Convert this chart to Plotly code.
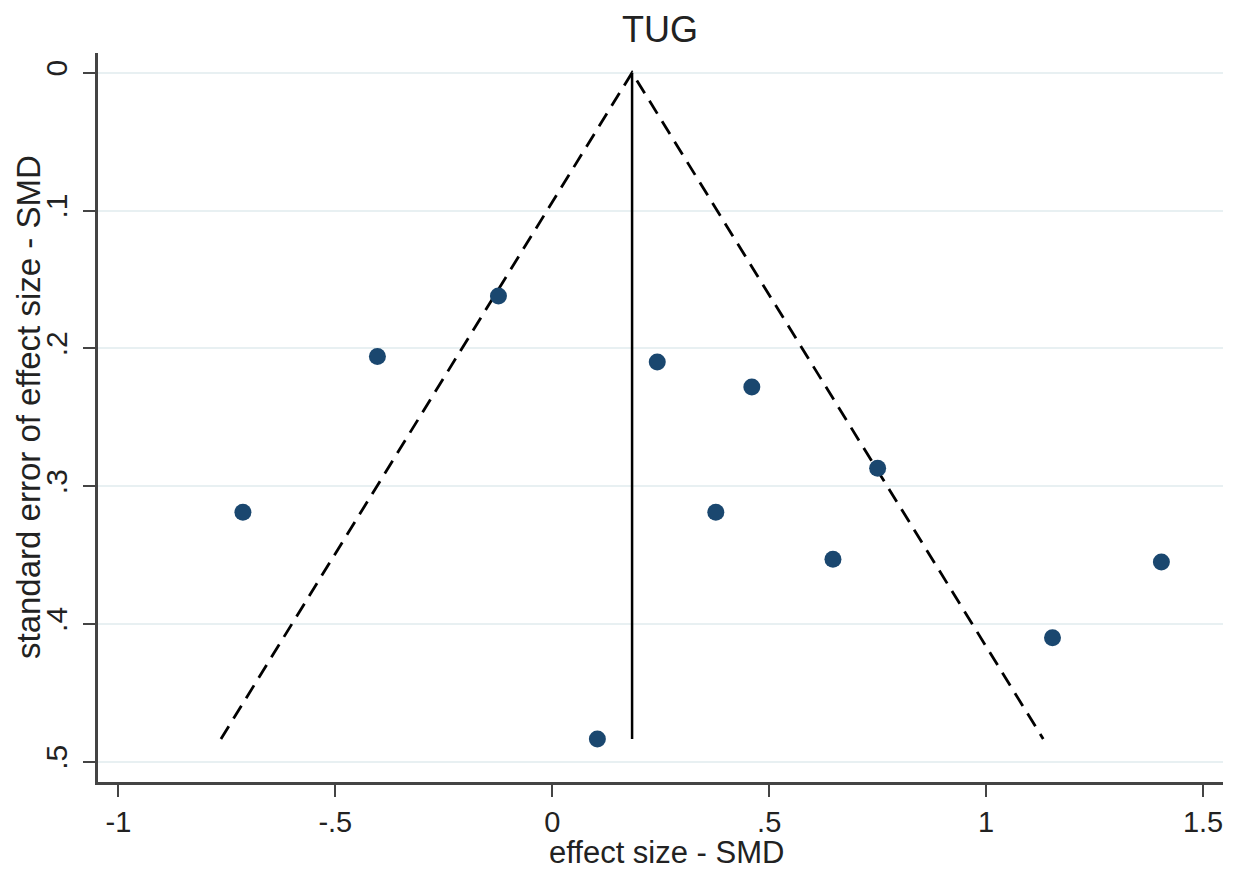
import plotly.graph_objects as go

# Study effect sizes (SMD) and their standard errors
smd = [-0.713, -0.403, -0.124, 0.242, 0.460, 0.750, 0.377, 0.647, 1.404, 1.153, 0.104]
se = [0.319, 0.206, 0.162, 0.210, 0.228, 0.287, 0.319, 0.353, 0.355, 0.410, 0.4835]

pooled = 0.184
se_max = 0.4835
z = 1.96

x_ticks = [-1, -0.5, 0, 0.5, 1, 1.5]
x_ticktext = ["-1", "-.5", "0", ".5", "1", "1.5"]
y_ticks = [0, 0.1, 0.2, 0.3, 0.4, 0.5]
y_ticktext = ["0", ".1", ".2", ".3", ".4", ".5"]

FONT = "Liberation Sans, Arial, sans-serif"
AXIS_COL = "#444444"
TXT = "#222222"

# page body has an 8px margin: shift everything accordingly
OFF = 8
W, H = 1236 - OFF, 870 - OFF

fig = go.Figure()

# pseudo 95% confidence limits
fig.add_trace(go.Scatter(
    x=[pooled - z * se_max, pooled, pooled + z * se_max],
    y=[se_max, 0, se_max],
    mode="lines",
    line=dict(color="black", width=2.8, dash="15px,9px"),
    hoverinfo="skip", showlegend=False))

# pooled estimate line
fig.add_trace(go.Scatter(
    x=[pooled, pooled], y=[0, se_max],
    mode="lines", line=dict(color="black", width=2.5),
    hoverinfo="skip", showlegend=False))

# studies
fig.add_trace(go.Scatter(
    x=smd, y=se, mode="markers",
    marker=dict(color="#1a476f", size=17, line=dict(width=0)),
    showlegend=False))

fig.update_layout(
    width=W, height=H,
    margin=dict(l=98 - OFF, r=OFF + W - 1223, t=53 - OFF, b=OFF + H - 782),
    paper_bgcolor="white", plot_bgcolor="white",
    font=dict(family=FONT, color=TXT),
    title=dict(text="TUG", x=(660 - OFF) / W, xanchor="center",
               y=1 - (29 - OFF) / H, yanchor="middle", yref="container",
               font=dict(size=36, family=FONT, color=TXT)),
)

fig.update_xaxes(
    range=[-1.047, 1.546],
    tickvals=x_ticks, ticktext=x_ticktext,
    showgrid=False, zeroline=False,
    showline=True, linecolor=AXIS_COL, linewidth=2.5,
    ticks="outside", ticklen=12, tickwidth=2, tickcolor=AXIS_COL,
    tickfont=dict(size=29, family=FONT, color=TXT),
    ticklabelstandoff=0,
)

fig.update_yaxes(
    range=[0.5147, -0.0143],
    tickvals=y_ticks, ticktext=y_ticktext, tickangle=-90,
    showgrid=True, gridcolor="#e8f0f2", gridwidth=2,
    zeroline=False,
    showline=True, linecolor=AXIS_COL, linewidth=2.5,
    ticks="outside", ticklen=12, tickwidth=2, tickcolor=AXIS_COL,
    tickfont=dict(size=30, family=FONT, color=TXT),
    ticklabelstandoff=4,
)

fig.add_annotation(text="effect size - SMD", xref="paper", yref="paper",
                   x=(666 - 98) / 1125, y=(782 - 852) / 729,
                   xanchor="center", yanchor="middle", showarrow=False,
                   font=dict(size=31, family=FONT, color=TXT))
fig.add_annotation(text="standard error of effect size - SMD", xref="paper", yref="paper",
                   x=(28 - 98) / 1125, y=(782 - 407) / 729, textangle=-90,
                   xanchor="center", yanchor="middle", showarrow=False,
                   font=dict(size=33, family=FONT, color=TXT))

fig.write_html("out.html")
